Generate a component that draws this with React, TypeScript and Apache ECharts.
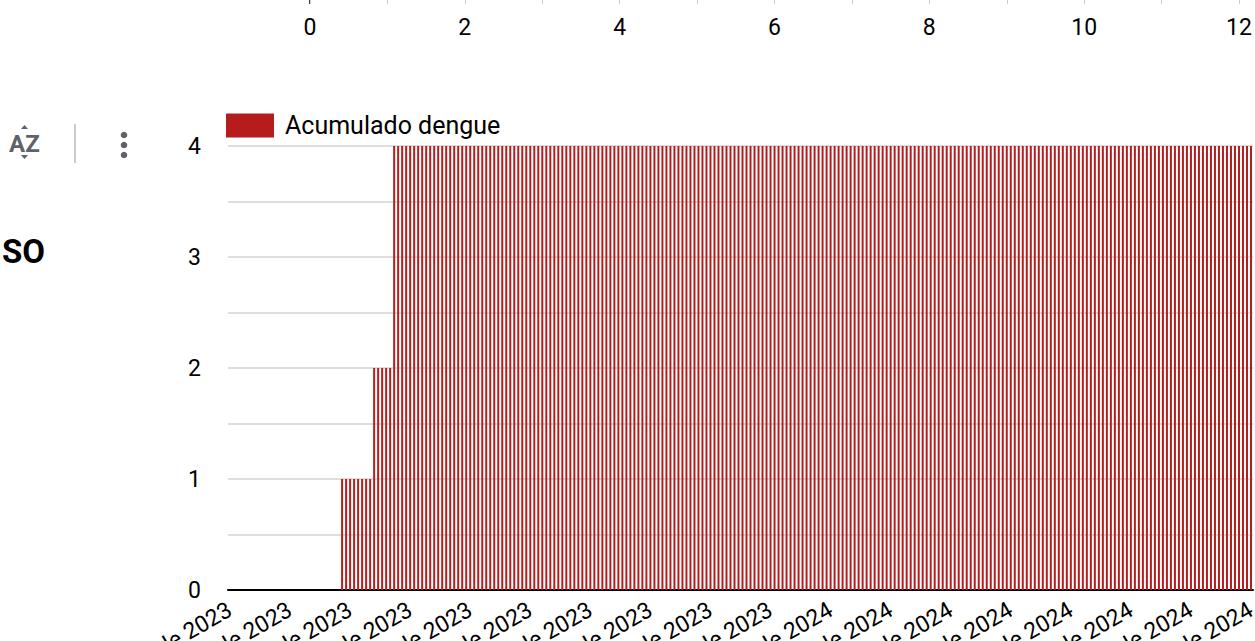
import React, { useEffect, useRef } from "react";
import * as echarts from "echarts";

// ---- data ----
const legendName = "Acumulado dengue";
const startDateUTC = [2023, 7, 14]; // first category: 14 de ago de 2023 (daily categories)
const monthsEs = ["ene", "feb", "mar", "abr", "may", "jun", "jul", "ago", "sept", "oct", "nov", "dic"];

// cumulative dengue cases per day (256 days)
const acumuladoDengue = [
  0,0,0,0,0,0,0,0,0,0, 0,0,0,0,0,0,0,0,0,0, 0,0,0,0,0,0,0,0,
  1,1,1,1,1,1,1,1,
  2,2,2,2,2,
  4,4,4,4,4,4,4,4,4,4, 4,4,4,4,4,4,4,4,4,4,
  4,4,4,4,4,4,4,4,4,4, 4,4,4,4,4,4,4,4,4,4,
  4,4,4,4,4,4,4,4,4,4, 4,4,4,4,4,4,4,4,4,4,
  4,4,4,4,4,4,4,4,4,4, 4,4,4,4,4,4,4,4,4,4,
  4,4,4,4,4,4,4,4,4,4, 4,4,4,4,4,4,4,4,4,4,
  4,4,4,4,4,4,4,4,4,4, 4,4,4,4,4,4,4,4,4,4,
  4,4,4,4,4,4,4,4,4,4, 4,4,4,4,4,4,4,4,4,4,
  4,4,4,4,4,4,4,4,4,4, 4,4,4,4,4,4,4,4,4,4,
  4,4,4,4,4,4,4,4,4,4, 4,4,4,4,4,4,4,4,4,4,
  4,4,4,4,4,4,4,4,4,4, 4,4,4,4,4,4,4,4,4,4,
  4,4,4,4,4,4,4,4,4,4, 4,4,4,4,4,
];

const yTickLabels = [0, 1, 2, 3, 4];
const topAxisTickLabels = [0, 2, 4, 6, 8, 10, 12];
const sideTitle = "SO";
const sortIconText = "AZ";

const dateCategories = acumuladoDengue.map((_, i) => {
  const d = new Date(Date.UTC(startDateUTC[0], startDateUTC[1], startDateUTC[2]) + i * 86400000);
  return `${d.getUTCDate()} de ${monthsEs[d.getUTCMonth()]} de ${d.getUTCFullYear()}`;
});

export default function App() {
  const ref = useRef<HTMLDivElement>(null);

  useEffect(() => {
    document.body.style.margin = "0";
    const chart = echarts.init(ref.current as HTMLDivElement, null, { renderer: "svg" });
    const iconGray = "#5f6368";
    chart.setOption({
      animation: false,
      backgroundColor: "#ffffff",
      textStyle: { fontFamily: "Roboto" },
      legend: {
        data: [legendName],
        left: 221,
        top: 108,
        icon: "rect",
        itemWidth: 48,
        itemHeight: 24,
        selectedMode: false,
        textStyle: { fontSize: 25, color: "#000", padding: [0, 0, 0, 6], fontFamily: "Roboto" },
      },
      grid: [
        { left: 228, right: 2, top: 146, bottom: 51, containLabel: false, outerBoundsMode: "none" },
        { left: 310, right: 16, top: -100, height: 100, containLabel: false, outerBoundsMode: "none" },
      ],
      xAxis: [
        {
          type: "category",
          gridIndex: 0,
          data: dateCategories,
          axisLine: { lineStyle: { color: "#000", width: 2 } },
          axisTick: { show: false },
          axisLabel: { rotate: 30, interval: 14, fontSize: 23, color: "#000", margin: 18, fontFamily: "Roboto" },
          splitLine: { show: false },
        },
        {
          type: "value",
          gridIndex: 1,
          min: 0,
          max: 12,
          interval: 1,
          axisLine: { show: false },
          axisTick: { show: true, length: 4, lineStyle: { color: "#cccccc" } },
          axisLabel: {
            fontSize: 23,
            color: "#000",
            margin: 16,
            fontFamily: "Roboto",
            formatter: (v: number) => (topAxisTickLabels.includes(v) ? String(v) : ""),
          },
          splitLine: { show: false },
        },
      ],
      yAxis: [
        {
          type: "value",
          gridIndex: 0,
          min: 0,
          max: 4,
          interval: 0.5,
          axisLine: { show: false },
          axisTick: { show: false },
          axisLabel: {
            fontSize: 23,
            color: "#000",
            margin: 27,
            fontFamily: "Roboto",
            formatter: (v: number) => (yTickLabels.includes(v) ? String(v) : ""),
          },
          splitLine: { lineStyle: { color: "#d3d3d3", width: 1.5 } },
        },
        { type: "value", gridIndex: 1, show: false, min: 0, max: 1 },
      ],
      series: [
        {
          type: "bar",
          name: legendName,
          xAxisIndex: 0,
          yAxisIndex: 0,
          data: acumuladoDengue,
          barWidth: 2,
          itemStyle: { color: "#b71c1c" },
        },
      ],
      graphic: [
        { type: "line", shape: { x1: 310, y1: 0, x2: 310, y2: 4 }, style: { stroke: "#000", lineWidth: 1.5 } },
        {
          type: "text",
          x: 9,
          y: 144,
          style: { text: sortIconText, font: "bold 24px Roboto", fill: iconGray, align: "left", verticalAlign: "middle", textVerticalAlign: "middle" },
        },
        { type: "polygon", shape: { points: [[21, 129], [24.5, 125], [28, 129]] }, style: { fill: iconGray } },
        { type: "polygon", shape: { points: [[21, 155], [28, 155], [24.5, 159]] }, style: { fill: iconGray } },
        { type: "line", shape: { x1: 75, y1: 124, x2: 75, y2: 163 }, style: { stroke: "#cccccc", lineWidth: 2 } },
        { type: "circle", shape: { cx: 124, cy: 135, r: 3.3 }, style: { fill: iconGray } },
        { type: "circle", shape: { cx: 124, cy: 145, r: 3.3 }, style: { fill: iconGray } },
        { type: "circle", shape: { cx: 124, cy: 155, r: 3.3 }, style: { fill: iconGray } },
        {
          type: "text",
          x: 45,
          y: 251,
          style: { text: sideTitle, font: "bold 33px Roboto", fill: "#000", align: "right", verticalAlign: "middle", textAlign: "right", textVerticalAlign: "middle" },
        },
      ],
    });
    return () => chart.dispose();
  }, []);

  return (
    <div
      ref={ref}
      style={{ position: "fixed", left: 0, top: 0, width: 1255, height: 641, background: "#fff" }}
    />
  );
}
